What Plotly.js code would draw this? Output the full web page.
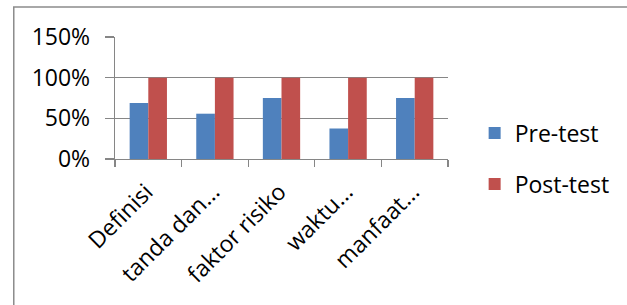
<!DOCTYPE html>
<html>
<head>
<meta charset="utf-8">
<script src="https://cdn.plot.ly/plotly-3.0.1.min.js"></script>
<style>html,body{margin:0;padding:0;background:#fff;}#chart{width:627px;height:305px;}</style>
</head>
<body>
<div id="chart"></div>
<script>
const categories = ["Definisi", "tanda dan...", "faktor risiko", "waktu...", "manfaat..."];
const preTest = [0.69, 0.557, 0.75, 0.375, 0.75];
const postTest = [1.0, 1.0, 1.0, 1.0, 1.0];
const seriesNames = ["Pre-test", "Post-test"];
const yTickVals = [0, 0.5, 1.0, 1.5];
const yTickText = ["0%", "50%", "100%", "150%"];

const FONT = "Open Sans, Noto Sans, sans-serif";
const GRID = "#868686";
const FS = 23;

const traces = [
  {type: "bar", name: seriesNames[0], x: categories, y: preTest, legendgroup: "a",
   marker: {color: "#4F81BD"}, hoverinfo: "none"},
  {type: "bar", name: seriesNames[1], x: categories, y: postTest, legendgroup: "b",
   marker: {color: "#C0504D"}, hoverinfo: "none"}
];

const layout = {
  width: 627, height: 305,
  margin: {l: 115, r: 175, t: 37, b: 146, pad: 0},
  paper_bgcolor: "#fff", plot_bgcolor: "#fff",
  font: {family: FONT, size: FS, color: "#000"},
  barmode: "group", bargap: 0.44, bargroupgap: 0,
  showlegend: true,
  legend: {x: 1.08, xanchor: "left", y: 0.388, yanchor: "top",
           traceorder: "grouped", tracegroupgap: 18,
           font: {family: FONT, size: FS, color: "#000"}},
  xaxis: {type: "category", tickangle: -45, tickson: "boundaries",
          ticks: "outside", ticklen: 7, tickcolor: GRID, tickwidth: 1.3,
          ticklabelshift: -2, ticklabelstandoff: 9,
          showline: true, linecolor: GRID, linewidth: 1.3, showgrid: false,
          tickfont: {family: FONT, size: FS, color: "#000"}},
  yaxis: {range: [0, 1.5], tickvals: yTickVals, ticktext: yTickText,
          ticks: "outside", ticklen: 9, tickcolor: GRID, tickwidth: 1.3,
          ticklabelstandoff: 10,
          showline: true, linecolor: GRID, linewidth: 1.3,
          showgrid: true, gridcolor: GRID, gridwidth: 1.3, zeroline: false,
          tickfont: {family: FONT, size: FS, color: "#000"}},
  shapes: [
    {type: "path", xref: "paper", yref: "paper",
     path: "M -0.304,-1.3 L -0.304,1.246 L 1.6,1.246",
     line: {color: "#8c8c8c", width: 1.5}}
  ]
};

Plotly.newPlot("chart", traces, layout, {staticPlot: true, displayModeBar: false});
</script>
</body>
</html>
